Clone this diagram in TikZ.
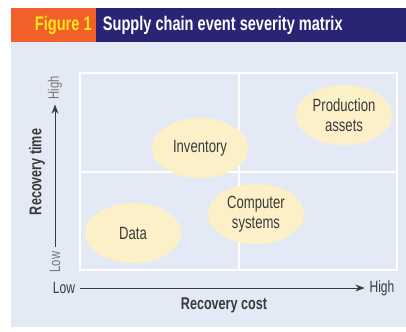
\documentclass[tikz,border=0pt]{standalone}
\usepackage{fontspec}
\setmainfont[FakeStretch=0.74]{Liberation Sans}
\usetikzlibrary{arrows.meta,shapes.geometric}

\definecolor{figorange}{HTML}{F2602A}
\definecolor{figyellow}{HTML}{FFE81A}
\definecolor{fignavy}{HTML}{2A2474}
\definecolor{panel}{HTML}{E4EAF5}
\definecolor{blob}{HTML}{FCF0C9}
\definecolor{ink}{HTML}{3A3A3A}

\begin{document}
\begin{tikzpicture}[
  x=0.025cm, y=-0.025cm,
  every node/.style = {text=ink},
  area/.style  = {ellipse, fill=blob, minimum width=2.4cm, minimum height=1.5cm,
                  align=center, inner sep=0pt, font=\fontsize{12.6}{14.2}\selectfont},
  tick/.style  = {font=\fontsize{11.6}{12}\selectfont},
  ytick/.style = {rotate=90, text=ink!70, font=\fontsize{10.8}{11}\selectfont},
  axis/.style  = {font=\fontsize{12.1}{13}\selectfont\bfseries},
  ar/.style    = {-{Stealth[length=2.3mm,width=1.7mm]}, draw=ink, line width=0.5pt},
]
\useasboundingbox (0,0) rectangle (406,331);

% ---- title bar and panel ---------------------------------------------------
\fill[figorange] (11,8) rectangle (96,42);
\fill[fignavy]   (96,8) rectangle (406,42);
\fill[panel]     (11,42) rectangle (406,327);
\node[anchor=west, text=figyellow, font=\fontsize{14}{14}\selectfont\bfseries]
  (fig) at (30,25) {Figure 1};
\node[anchor=west, text=white, font=\fontsize{14}{14}\selectfont\bfseries]
  (title) at (98,25) {Supply chain event severity matrix};

% ---- quadrant grid -----------------------------------------------------------
\draw[white, line width=1.2pt] (80,73) rectangle (397,270);
\draw[white, line width=1.2pt] (80,172) -- (397,172);
\draw[white, line width=1.2pt] (239,73) -- (239,270);

% ---- axes --------------------------------------------------------------------
\node[tick]  (xlow)  at (64,288)  {Low};
\node[tick]  (xhigh) at (382,288) {High};
\node[axis]  (xlab)  at (224,305) {Recovery cost};
\draw[ar] (xlow.east) -- (xhigh.west);

\node[ytick] (ylow)  at (55,262)  {Low};
\node[ytick] (yhigh) at (55,88)   {High};
\node[axis, rotate=90] (ylab) at (37,172) {Recovery time};
\draw[ar] (ylow.east) -- (yhigh.west);

% ---- event types ---------------------------------------------------------------
\node[area] (inv)  at (200,148) {Inventory};
\node[area] (prod) at (344,115) {Production\\assets};
\node[area] (comp) at (256,214) {Computer\\systems};
\node[area] (data) at (133,233) {Data};

\end{tikzpicture}
\end{document}
